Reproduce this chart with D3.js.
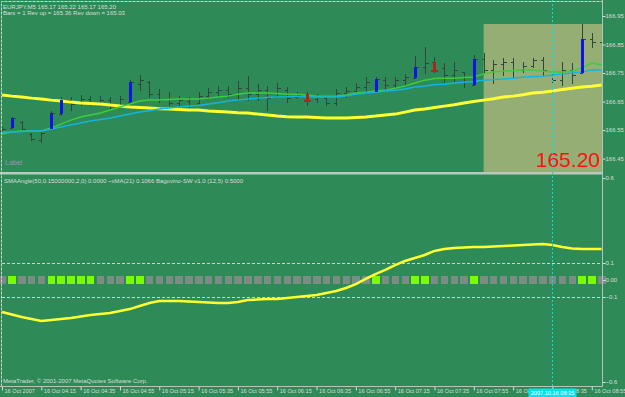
<!DOCTYPE html>
<html>
<head>
<meta charset="utf-8">
<script src="https://cdn.jsdelivr.net/npm/d3@7"></script>
<style>
body { margin: 0; background: #2e8b57; }
svg { display: block; font-family: "Liberation Sans", Arial, sans-serif; }
</style>
</head>
<body>
<div id="chart"></div>
<script>
// EURJPY M5, 16 Oct 2007, one bar every 5 minutes from 03:55
var firstBar = "2007-10-16 03:55";

var barOpen = [166.547,166.557,166.578,166.536,166.515,166.554,166.606,166.655,166.645,166.659,
  166.641,166.655,166.638,166.648,166.711,166.718,166.676,166.659,166.645,166.652,
  166.645,166.669,166.683,166.690,166.676,166.697,166.676,166.690,166.666,166.690,
  166.666,166.676,166.659,166.662,166.645,166.680,166.687,166.701,166.683,166.725,
  166.708,166.725,166.732,166.771,166.789,166.768,166.743,166.754,166.708,166.799,
  166.761,166.782,166.789,166.761,166.775,166.796,166.743,166.725,166.761,166.750,
  166.869,166.859];
var barHigh = [166.561,166.596,166.582,166.540,166.547,166.617,166.666,166.666,166.673,166.669,
  166.669,166.666,166.669,166.725,166.743,166.722,166.694,166.683,166.669,166.666,
  166.683,166.697,166.704,166.704,166.722,166.739,166.711,166.704,166.715,166.701,
  166.683,166.683,166.676,166.666,166.694,166.701,166.715,166.736,166.736,166.736,
  166.736,166.747,166.810,166.841,166.806,166.785,166.789,166.754,166.813,166.820,
  166.796,166.803,166.803,166.789,166.803,166.806,166.754,166.789,166.785,166.922,
  166.890,166.873];
var barLow = [166.540,166.554,166.547,166.511,166.504,166.550,166.599,166.617,166.634,166.634,
  166.634,166.624,166.627,166.645,166.687,166.662,166.645,166.634,166.634,166.627,
  166.645,166.659,166.662,166.662,166.652,166.652,166.652,166.617,166.662,166.645,
  166.659,166.634,166.645,166.634,166.634,166.662,166.676,166.676,166.680,166.687,
  166.694,166.704,166.729,166.747,166.750,166.715,166.715,166.697,166.704,166.747,
  166.711,166.739,166.732,166.750,166.768,166.739,166.715,166.704,166.711,166.747,
  166.838,166.732];
var barClose = [166.554,166.592,166.554,166.518,166.540,166.610,166.655,166.641,166.659,166.645,
  166.655,166.634,166.659,166.718,166.725,166.676,166.655,166.645,166.655,166.638,
  166.669,166.683,166.690,166.676,166.697,166.676,166.690,166.662,166.697,166.662,
  166.673,166.655,166.669,166.645,166.680,166.687,166.701,166.718,166.729,166.708,
  166.725,166.736,166.771,166.785,166.761,166.743,166.761,166.718,166.799,166.761,
  166.782,166.789,166.761,166.775,166.796,166.761,166.725,166.761,166.743,166.869,
  166.859,166.743];

// 1 = up signal bar (blue), -1 = down signal bar (red)
var barSignal = [0,1,0,0,0,1,1,0,0,0, 0,0,0,1,0,0,0,0,0,0, 0,0,0,0,0,0,0,0,0,0,
  0,-1,0,0,0,0,0,0,1,0, 0,0,1,0,-1,0,0,0,1,0, 0,0,0,0,0,0,0,0,0,1, 0,0];

var maSlow = [166.673,166.669,166.666,166.662,166.659,166.655,166.652,166.648,166.645,166.643,
  166.641,166.638,166.634,166.631,166.629,166.627,166.625,166.624,166.622,166.620,
  166.620,166.617,166.615,166.613,166.611,166.610,166.606,166.603,166.599,166.597,
  166.596,166.596,166.594,166.592,166.592,166.592,166.594,166.596,166.599,166.603,
  166.606,166.613,166.620,166.624,166.629,166.634,166.639,166.645,166.650,166.655,
  166.660,166.666,166.669,166.674,166.680,166.683,166.687,166.692,166.697,166.701,
  166.704,166.708];
var maFast = [166.536,166.543,166.547,166.547,166.547,166.557,166.571,166.585,166.596,166.603,
  166.610,166.620,166.631,166.641,166.652,166.655,166.655,166.657,166.659,166.659,
  166.659,166.662,166.666,166.669,166.676,166.680,166.680,166.680,166.678,166.676,
  166.676,166.673,166.669,166.669,166.669,166.673,166.680,166.683,166.687,166.690,
  166.697,166.704,166.715,166.725,166.731,166.732,166.732,166.734,166.736,166.747,
  166.754,166.757,166.759,166.761,166.761,166.757,166.754,166.754,166.757,166.768,
  166.785,166.778];
var maMid = [166.543,166.543,166.545,166.547,166.547,166.554,166.561,166.568,166.575,166.582,
  166.587,166.592,166.599,166.606,166.613,166.618,166.624,166.627,166.631,166.634,
  166.636,166.641,166.646,166.652,166.655,166.659,166.662,166.664,166.666,166.667,
  166.669,166.667,166.666,166.666,166.666,166.669,166.676,166.680,166.683,166.687,
  166.690,166.694,166.701,166.704,166.710,166.711,166.715,166.718,166.720,166.725,
  166.727,166.729,166.732,166.736,166.738,166.739,166.743,166.747,166.750,166.754,
  166.761,166.761];

// lower window
var smaAngle = [-0.188,-0.203,-0.218,-0.229,-0.241,-0.235,-0.229,-0.224,-0.215,-0.206,
  -0.200,-0.194,-0.182,-0.171,-0.153,-0.135,-0.124,-0.124,-0.124,-0.126,
  -0.129,-0.132,-0.135,-0.135,-0.129,-0.118,-0.115,-0.112,-0.112,-0.106,
  -0.100,-0.094,-0.088,-0.076,-0.065,-0.047,-0.024,0.006,0.035,0.059,
  0.088,0.112,0.129,0.147,0.171,0.182,0.188,0.191,0.194,0.194,
  0.197,0.200,0.203,0.206,0.209,0.212,0.206,0.194,0.185,0.182,
  0.182,0.182];
var swState = [0,1,0,0,0,1,1,1,1,1, 0,0,0,1,1,0,0,0,0,0, 0,0,0,0,0,0,0,0,0,0,
  0,0,0,0,0,0,0,0,1,0, 0,0,1,1,0,0,0,0,1,0, 0,0,0,0,0,0,0,0,0,1, 1,0];

var priceTicks = [166.95, 166.85, 166.75, 166.65, 166.55, 166.45];
var indTicks = [0.6, 0.1, 0, -0.1, -0.6];
var indLevels = [0.1, -0.1];
var timeTicks = ["2007-10-16 03:55","2007-10-16 04:15","2007-10-16 04:35","2007-10-16 04:55",
  "2007-10-16 05:15","2007-10-16 05:35","2007-10-16 05:55","2007-10-16 06:15",
  "2007-10-16 06:35","2007-10-16 06:55","2007-10-16 07:15","2007-10-16 07:35",
  "2007-10-16 07:55","2007-10-16 08:15","2007-10-16 08:35","2007-10-16 08:55"];
var crossTime = "2007-10-16 08:35";
var boxStart = "2007-10-16 08:00", boxTop = 166.922;
var lastPrice = "165.20";

var header1 = "EURJPY,M5  165.17 165.22 165.17 165.20";
var header2 = "Bars = 1 Rev up = 165.36 Rev down = 165.03";
var indTitle = "SMAAngle(50,0.15000000,2,0) 0.0000   ~xMA(21) 0.1066  Bagovino-SW v1.0 (12,5) 0.5000";
var copyright = "MetaTrader, \u00a9 2001-2007 MetaQuotes Software Corp.";

var width = 625, height = 397;
var axisX = 602.5, timeY = 386.5;
var textCol = "#dcdcdc";

var parseT = d3.timeParse("%Y-%m-%d %H:%M");
var t0 = parseT(firstBar);
var times = barOpen.map(function(d, i) { return d3.timeMinute.offset(t0, 5 * i); });

var x = d3.scaleTime()
    .domain([t0, times[times.length - 1]])
    .range([2, 601.6]);
var yP = d3.scaleLinear().domain([166.403, 166.999]).range([172, 2]);
var yI = d3.scaleLinear().domain([-0.6, 0.6]).range([382, 178]);

var svg = d3.select("#chart").append("svg")
    .attr("width", width)
    .attr("height", height);

svg.append("rect").attr("width", width).attr("height", height).attr("fill", "#2e8b57");

svg.append("clipPath").attr("id", "plotclip")
  .append("rect").attr("x", 0).attr("y", 0).attr("width", axisX).attr("height", 172);

// selection rectangle object
svg.append("rect")
    .attr("x", x(parseT(boxStart)))
    .attr("y", yP(boxTop))
    .attr("width", axisX - x(parseT(boxStart)))
    .attr("height", 172 - yP(boxTop))
    .attr("fill", "#95ae74");

var price = svg.append("g").attr("clip-path", "url(#plotclip)");

// OHLC bars
var bars = price.append("g")
    .attr("stroke", "#33453c")
    .attr("shape-rendering", "crispEdges")
  .selectAll("g")
  .data(times)
  .enter().append("g")
    .attr("transform", function(d) { return "translate(" + (Math.round(x(d)) + 0.5) + ",0)"; });

bars.append("line")
    .attr("y1", function(d, i) { return yP(barHigh[i]); })
    .attr("y2", function(d, i) { return yP(barLow[i]); });
bars.append("line")
    .attr("x1", -3).attr("x2", 0)
    .attr("y1", function(d, i) { return Math.round(yP(barOpen[i])) + 0.5; })
    .attr("y2", function(d, i) { return Math.round(yP(barOpen[i])) + 0.5; });
bars.append("line")
    .attr("x1", 0).attr("x2", 3)
    .attr("y1", function(d, i) { return Math.round(yP(barClose[i])) + 0.5; })
    .attr("y2", function(d, i) { return Math.round(yP(barClose[i])) + 0.5; });

// moving averages
var lineFor = function(arr) {
  return d3.line()
    .x(function(d, i) { return x(times[i]); })
    .y(function(d) { return yP(d); })(arr);
};
price.append("path").attr("d", lineFor(maSlow))
    .attr("fill", "none").attr("stroke", "#ffff33").attr("stroke-width", 3);
price.append("path").attr("d", lineFor(maFast))
    .attr("fill", "none").attr("stroke", "#3ccc3c").attr("stroke-width", 1.5);
price.append("path").attr("d", lineFor(maMid))
    .attr("fill", "none").attr("stroke", "#12b4e0").attr("stroke-width", 1.5);

// signal bars
var sig = times.map(function(d, i) { return i; }).filter(function(i) { return barSignal[i] != 0; });
price.append("g").attr("shape-rendering", "crispEdges")
  .selectAll("rect")
  .data(sig)
  .enter().append("rect")
    .attr("x", function(i) { return Math.round(x(times[i])) - 1; })
    .attr("width", 3)
    .attr("y", function(i) { return yP(Math.max(barOpen[i], barClose[i])); })
    .attr("height", function(i) { return Math.abs(yP(barOpen[i]) - yP(barClose[i])); })
    .attr("fill", function(i) { return barSignal[i] > 0 ? "#1414e6" : "#b0241c"; });
price.append("g").attr("shape-rendering", "crispEdges")
  .selectAll("line")
  .data(sig.filter(function(i) { return barSignal[i] < 0; }))
  .enter().append("line")
    .attr("x1", function(i) { return Math.round(x(times[i])) - 3; })
    .attr("x2", function(i) { return Math.round(x(times[i])) + 4; })
    .attr("y1", function(i) { return Math.round(yP(barClose[i])) + 0.5; })
    .attr("y2", function(i) { return Math.round(yP(barClose[i])) + 0.5; })
    .attr("stroke", "#b0241c").attr("stroke-width", 2);

// header + labels in price window
svg.append("text").attr("x", 3).attr("y", 8.5).attr("font-size", 6).attr("fill", textCol).text(header1);
svg.append("text").attr("x", 3).attr("y", 15).attr("font-size", 6).attr("fill", textCol).text(header2);
svg.append("text").attr("x", 5).attr("y", 164.5).attr("font-size", 7).attr("fill", "#a092b2").text("Label");
svg.append("text").attr("x", 600).attr("y", 167).attr("text-anchor", "end")
    .attr("font-size", 21).attr("fill", "#ff1010").text(lastPrice);

// window separator
svg.append("rect").attr("x", 0).attr("y", 172).attr("width", axisX).attr("height", 2.5).attr("fill", "#b9c9bd");

// lower window
svg.append("g").selectAll("line")
  .data(indLevels)
  .enter().append("line")
    .attr("x1", 2).attr("x2", axisX)
    .attr("y1", function(d) { return Math.round(yI(d)) + 0.5; })
    .attr("y2", function(d) { return Math.round(yI(d)) + 0.5; })
    .attr("stroke", "#c8d4cc").attr("stroke-dasharray", "3,2");

svg.append("g").attr("shape-rendering", "crispEdges")
  .selectAll("rect")
  .data(times)
  .enter().append("rect")
    .attr("x", function(d) { return x(d) - 3.5; })
    .attr("y", yI(0) - 4)
    .attr("width", 7.5).attr("height", 7.5)
    .attr("fill", function(d, i) { return swState[i] ? "#7cfc00" : "#7c8c84"; });

svg.append("path")
    .attr("d", d3.line()
      .x(function(d, i) { return x(times[i]); })
      .y(function(d) { return yI(d); })(smaAngle))
    .attr("fill", "none").attr("stroke", "#ffff33").attr("stroke-width", 2.5);

svg.append("text").attr("x", 4).attr("y", 183).attr("font-size", 6).attr("fill", textCol).text(indTitle);
svg.append("text").attr("x", 3).attr("y", 383).attr("font-size", 6).attr("fill", textCol).text(copyright);

// crosshair
var cx = Math.round(x(parseT(crossTime))) + 0.5;
svg.append("line").attr("x1", cx).attr("x2", cx).attr("y1", 0).attr("y2", timeY)
    .attr("stroke", "#00e0e8").attr("stroke-dasharray", "2,2");

// frame
svg.append("path")
    .attr("d", "M1.5," + timeY + "V1.5H" + axisX)
    .attr("fill", "none").attr("stroke", "#c8d4cc").attr("stroke-dasharray", "3,1");

// price scale
var pAxis = svg.append("g")
    .attr("transform", "translate(" + axisX + ",0)")
    .call(d3.axisRight(yP).tickValues(priceTicks).tickSize(3).tickFormat(d3.format(".2f")));
var iAxis = svg.append("g")
    .attr("transform", "translate(" + axisX + ",0)")
    .call(d3.axisRight(yI).tickValues(indTicks).tickSize(3)
      .tickFormat(function(d) { return d == 0 ? "0.00" : d3.format(".1f")(d); }));
[pAxis, iAxis].forEach(function(a) {
  a.select(".domain").remove();
  a.selectAll("line").attr("stroke", textCol);
  a.selectAll("text").attr("x", 3).attr("fill", textCol).attr("font-size", 6)
    .attr("font-family", "Liberation Sans, Arial, sans-serif");
});

svg.append("line").attr("x1", axisX).attr("x2", axisX).attr("y1", 0).attr("y2", timeY)
    .attr("stroke", "#b4c4b8");

// time scale
var tAxis = svg.append("g")
    .attr("transform", "translate(0," + timeY + ")")
    .call(d3.axisBottom(x).tickValues(timeTicks.map(parseT)).tickSize(4)
      .tickFormat(function(d, i) { return i == 0 ? d3.timeFormat("%d %b %Y")(d) : d3.timeFormat("%d %b %H:%M")(d); }));
tAxis.select(".domain").remove();
tAxis.selectAll("line").attr("stroke", textCol);
tAxis.selectAll("text").attr("text-anchor", "start").attr("x", 2).attr("y", 3)
    .attr("fill", textCol).attr("font-size", 5.6).attr("font-family", "Liberation Sans, Arial, sans-serif");
svg.append("line").attr("x1", 0).attr("x2", axisX).attr("y1", timeY).attr("y2", timeY)
    .attr("stroke", "#b4c4b8");

// crosshair time label
var cLabel = d3.timeFormat("%Y.%m.%d %H:%M")(parseT(crossTime));
svg.append("rect").attr("x", cx - 24).attr("y", timeY + 2).attr("width", 48).attr("height", 9)
    .attr("fill", "#00e4ee");
svg.append("text").attr("x", cx).attr("y", timeY + 8.5).attr("text-anchor", "middle")
    .attr("font-size", 5.6).attr("fill", "#ffffff").text(cLabel);
</script>
</body>
</html>
